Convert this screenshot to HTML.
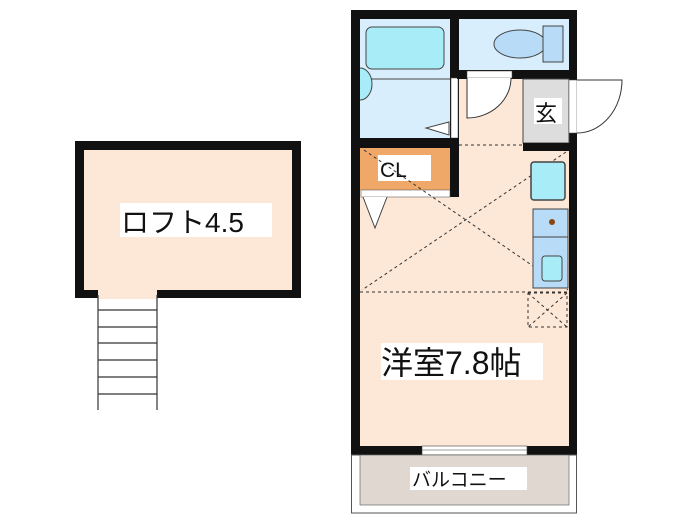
<!DOCTYPE html>
<html><head><meta charset="utf-8"><style>
body{margin:0;background:#fff;width:700px;height:525px;overflow:hidden}
svg{display:block}
text{font-family:"Liberation Sans","Noto Sans CJK JP",sans-serif;fill:#111}
</style></head><body>
<svg width="700" height="525" viewBox="0 0 700 525">
<!-- Loft -->
<rect x="75" y="141" width="226" height="157" fill="#111"/>
<rect x="84" y="150" width="208" height="140" fill="#fde8d8"/>
<rect x="98" y="289" width="59" height="10" fill="#fde8d8"/>
<g stroke="#333" stroke-width="1.2">
<line x1="98" y1="295" x2="98" y2="410"/><line x1="157" y1="295" x2="157" y2="410"/>
<line x1="98" y1="310" x2="157" y2="310"/><line x1="98" y1="327" x2="157" y2="327"/>
<line x1="98" y1="343" x2="157" y2="343"/><line x1="98" y1="360" x2="157" y2="360"/>
<line x1="98" y1="377" x2="157" y2="377"/><line x1="98" y1="394" x2="157" y2="394"/>
</g>
<rect x="120" y="203" width="152" height="34" fill="#fff"/>
<text x="121" y="232" font-size="28">ロフト4.5</text>

<!-- Main outer -->
<rect x="351" y="10" width="226" height="445" fill="#111"/>
<rect x="360" y="19" width="209" height="427" fill="#fde8d8"/>
<!-- bath -->
<rect x="360" y="19" width="90" height="119" fill="#d8eefc"/>
<rect x="366" y="27" width="78" height="42" rx="6" fill="#a8ecf8" stroke="#444"/>
<line x1="360" y1="79" x2="450" y2="79" stroke="#444"/>
<path d="M360 68 a12 16 0 0 1 0 32" fill="#a8ecf8" stroke="#444"/>
<path d="M449 122 L426 128 L449 135Z" fill="#fff" stroke="#444"/>
<rect x="450" y="10" width="9" height="187" fill="#111"/>
<rect x="451" y="78" width="7" height="60" fill="#fff" stroke="#444" stroke-width=".5"/>
<!-- toilet -->
<rect x="459" y="19" width="110" height="51" fill="#d8eefc"/>
<ellipse cx="520" cy="44" rx="26" ry="14" fill="#b8dcf8" stroke="#444"/>
<rect x="543" y="26" width="20" height="36" fill="#b8dcf8" stroke="#444"/>
<rect x="457" y="70" width="120" height="9" fill="#111"/>
<rect x="467" y="71" width="45" height="7" fill="#fff" stroke="#444" stroke-width=".5"/>
<path d="M467 78 L467 118 A44 40 0 0 0 511 78" fill="#fff" stroke="#333"/>
<!-- bath bottom wall -->
<rect x="351" y="138" width="108" height="10" fill="#111"/>
<!-- CL -->
<rect x="360" y="148" width="90" height="42" fill="#f0a868"/>
<rect x="378" y="155" width="53" height="26" fill="#fff"/>
<rect x="361" y="190" width="89" height="7" fill="#fff" stroke="#444" stroke-width=".5"/>
<path d="M363 197 L375 228 L387 197" fill="#fff" stroke="#444"/>
<!-- genkan -->
<rect x="523" y="79" width="46" height="64" fill="#ddd" stroke="#444" stroke-width="1"/>
<rect x="523" y="143" width="54" height="8" fill="#111"/>
<rect x="534" y="98" width="28" height="26" fill="#fff"/>
<text x="535" y="121" font-size="22">玄</text>
<rect x="569" y="80" width="8" height="53" fill="#fff" stroke="#444" stroke-width=".5"/>
<path d="M577 80 L622 80 A45 53 0 0 1 577 133" fill="#fff" stroke="#333"/>
<!-- dashed -->
<g stroke="#333" stroke-width="1" stroke-dasharray="3,3" fill="none">
<line x1="459" y1="145" x2="523" y2="145"/>
<line x1="360" y1="292" x2="569" y2="292"/>
<line x1="364" y1="150" x2="568" y2="290"/>
<line x1="566" y1="152" x2="362" y2="290"/>
<rect x="528" y="293" width="39" height="34"/>
<line x1="528" y1="293" x2="567" y2="327"/><line x1="567" y1="293" x2="528" y2="327"/>
</g>
<text x="380" y="177" font-size="21">CL</text>
<!-- kitchen -->
<rect x="531" y="162" width="34" height="38" rx="3" fill="#a8ecf8" stroke="#444" stroke-width="1.5"/>
<rect x="533" y="209" width="35" height="79" fill="#b8dcf8" stroke="#444"/>
<line x1="533" y1="237" x2="568" y2="237" stroke="#444"/>
<circle cx="552" cy="222" r="3" fill="#8b4513"/>
<rect x="542" y="256" width="20" height="25" rx="3" fill="#a8ecf8" stroke="#444"/>
<!-- room label -->
<rect x="381" y="343" width="162" height="37" fill="#fff"/>
<text x="381" y="374" font-size="32">洋室7.8帖</text>
<!-- window -->
<rect x="422" y="446" width="105" height="9" fill="#fff" stroke="#444" stroke-width=".6"/>
<line x1="422" y1="450" x2="527" y2="450" stroke="#444" stroke-width=".6"/>
<!-- balcony -->
<rect x="351.5" y="455" width="225" height="58" fill="#fff" stroke="#555"/>
<rect x="360" y="455" width="209" height="50" fill="#e0d8d0" stroke="#555" stroke-width=".6"/>
<rect x="410" y="467" width="117" height="23" fill="#fff"/>
<text x="412" y="486" font-size="19">バルコニー</text>
</svg>
</body></html>
